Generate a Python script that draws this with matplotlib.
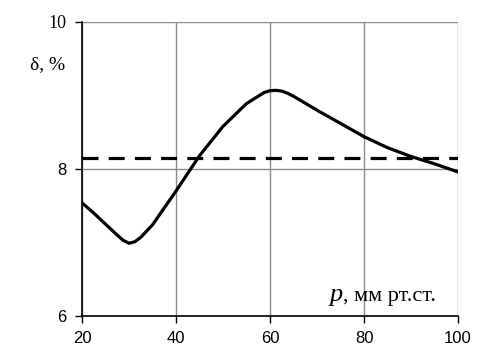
import matplotlib
matplotlib.use('Agg')
import matplotlib.pyplot as plt

# values
p = [20, 22.5, 25, 27.5, 28.75, 30, 31.25, 32.5, 35, 37.5, 40, 45, 50, 55, 57.5,
     58.75, 60, 61.25, 62.5, 63.75, 65, 70, 75, 80, 85, 90, 95, 100]
delta = [7.54, 7.40, 7.25, 7.10, 7.03, 6.99, 7.01, 7.07, 7.24, 7.47, 7.70, 8.18, 8.58, 8.89, 8.99,
         9.04, 9.065, 9.07, 9.06, 9.03, 8.99, 8.80, 8.62, 8.44, 8.29, 8.17, 8.07, 7.96]
delta_ref = 8.15

x_ticks = [20, 40, 60, 80, 100]
y_ticks = [6, 8, 10]

fig = plt.figure(figsize=(4.86, 3.64), dpi=100)
ax = fig.add_axes([0.1687, 0.1319, 0.7737, 0.8077])

ax.plot(p, delta, color='black', linewidth=2.3, solid_joinstyle='round', zorder=3)
ax.axhline(delta_ref, color='black', linewidth=2.3, linestyle=(0, (5, 3.2)), zorder=3)

ax.set_xlim(20, 100)
ax.set_ylim(6, 10)
ax.set_xticks(x_ticks)
ax.set_yticks(y_ticks)
ax.grid(color='#8c8c8c', linewidth=1.0)
ax.set_axisbelow(True)

for s in ['top', 'right']:
    ax.spines[s].set_visible(False)
for s in ['left', 'bottom']:
    ax.spines[s].set_color('black')
    ax.spines[s].set_linewidth(1.2)
    ax.spines[s].set_zorder(4)

ax.tick_params(direction='out', length=5, width=1.0, pad=6, labelsize=12)
for lab in ax.get_xticklabels() + ax.get_yticklabels():
    lab.set_family('Liberation Sans')
ax.get_yticklabels()[-1].set_family('Liberation Serif')
ax.get_yticklabels()[-1].set_fontsize(13)

fig.text(0.098, 0.822, 'δ, %', family='Liberation Serif', fontsize=14, ha='center', va='center')

# axis label: italic p, then units
ax.text(0.693, 0.051, 'p', transform=ax.transAxes, family='Liberation Serif',
        style='italic', fontsize=19, ha='right', va='baseline')
ax.text(0.693, 0.051, ', мм рт.ст.', transform=ax.transAxes, family='Liberation Serif',
        fontsize=16, ha='left', va='baseline')

fig.savefig('out.png', dpi=100)
